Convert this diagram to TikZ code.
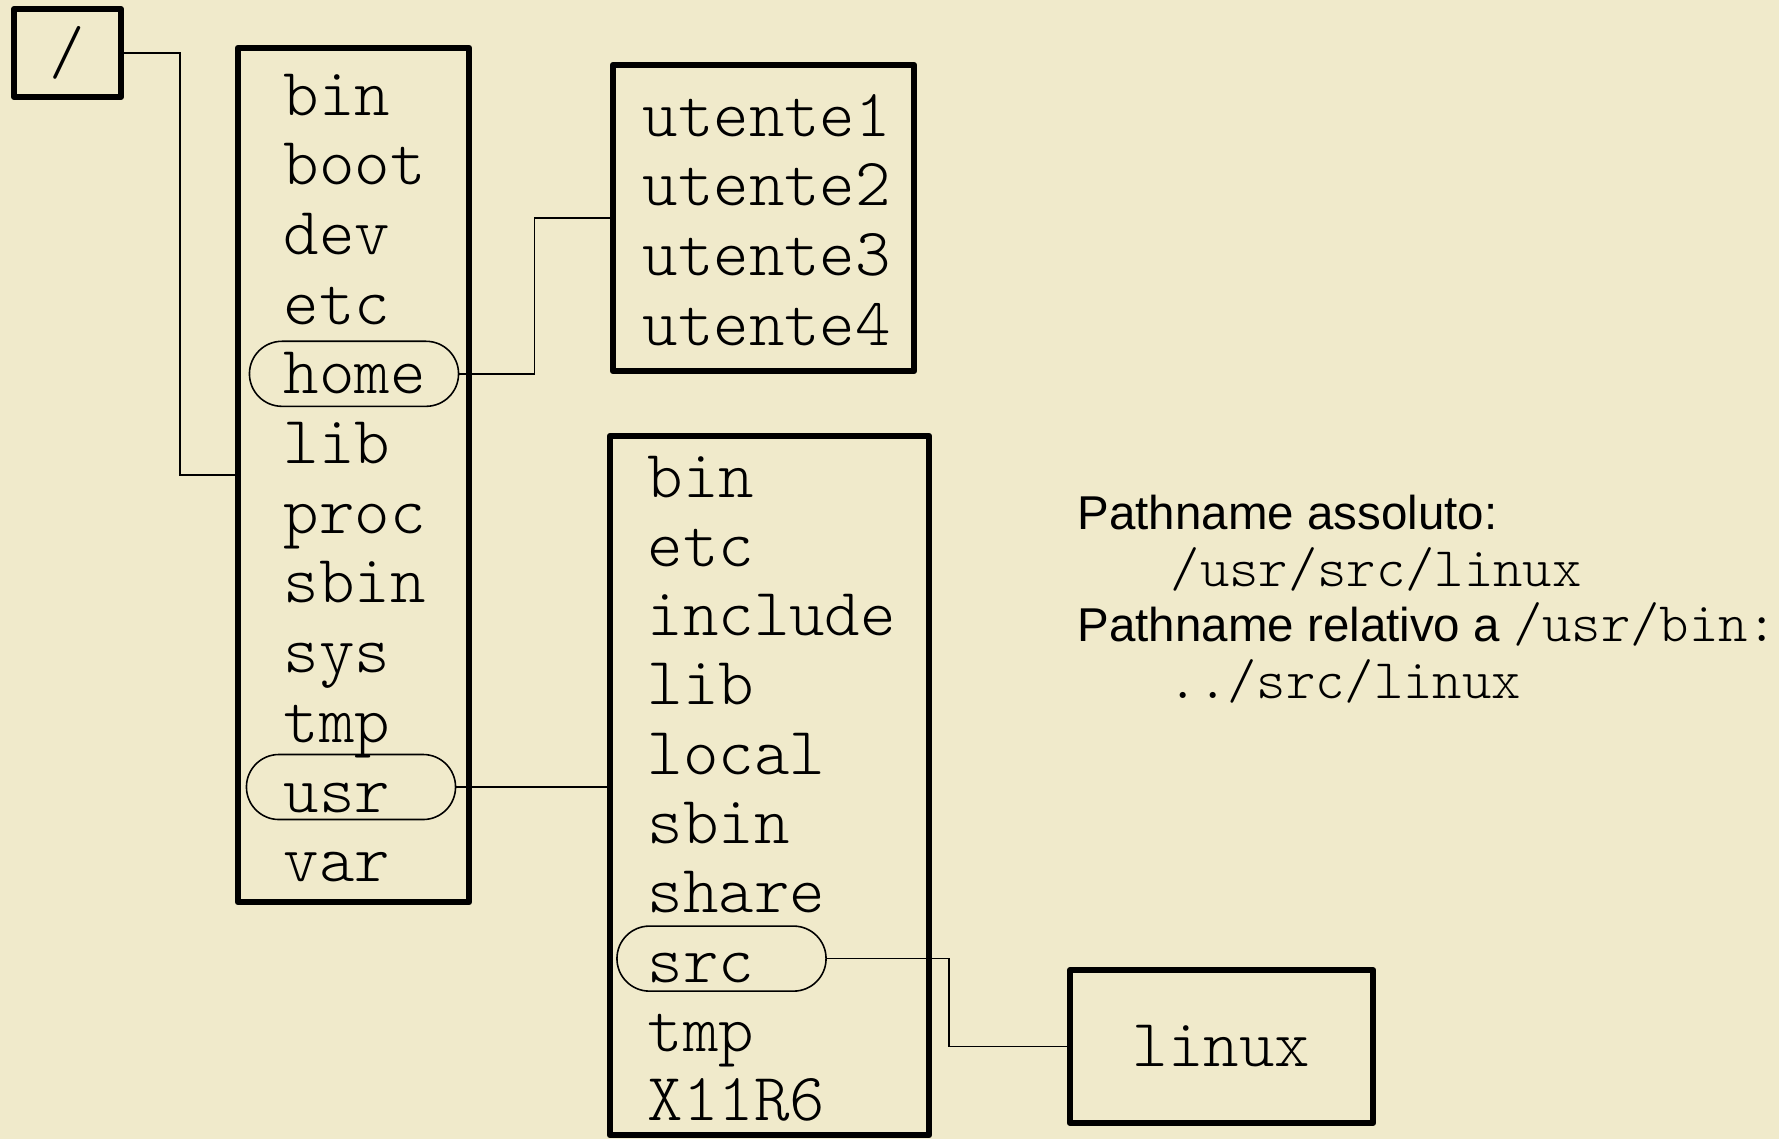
\documentclass[tikz,border=0pt]{standalone}
\usepackage{fontspec}
\newfontfamily\slidesans{Liberation Sans}
\newfontfamily\slidemono{lmmonolt10-regular.otf}
\usetikzlibrary{shapes.misc}

\definecolor{parchment}{RGB}{240,234,203}

\tikzset{
  dirbox/.style={draw, line width=1.7pt, line join=round, inner sep=0pt},
  entry/.style={anchor=base west, inner sep=0pt, font=\fontsize{19.2}{21}\selectfont\slidemono},
  ring/.style={draw, rounded rectangle, line width=0.45pt, minimum width=2.09cm,
    minimum height=0.65cm, inner sep=0pt},
  link/.style={line width=0.4pt},
  notes/.style={anchor=base west, inner sep=0pt, font=\fontsize{13.5}{16}\selectfont\slidesans},
  pathline/.style={anchor=base west, inner sep=0pt, font=\fontsize{15.9}{18}\selectfont\slidemono}
}

\begin{document}
\begin{tikzpicture}[x=0.01cm, y=-0.01cm]
  \fill[parchment] (0,0) rectangle (1779,1139);
  \useasboundingbox (0,0) rectangle (1779,1139);

  % directories
  \node[dirbox, minimum width=1.07cm, minimum height=0.88cm,
    font=\fontsize{19.2}{21}\selectfont\slidemono] (rootdir) at (67.5,53) {/};
  \node[dirbox, minimum width=2.31cm, minimum height=8.54cm] (topdir) at (353.5,475) {};
  \node[dirbox, minimum width=3.01cm, minimum height=3.06cm] (homedir) at (763.5,218) {};
  \node[dirbox, minimum width=3.19cm, minimum height=6.99cm] (usrdir) at (769.5,785.5) {};
  \node[dirbox, minimum width=3.03cm, minimum height=1.53cm,
    font=\fontsize{19.2}{21}\selectfont\slidemono] (linuxdir) at (1221.5,1046.5) {linux};

  % entries
  \foreach \name [count=\k from 0] in {bin,boot,dev,etc,home,lib,proc,sbin,sys,tmp,usr,var}
    \node[entry] (top-\name) at (283, 115+69.7*\k) {\name};
  \foreach \name [count=\k from 0] in {utente1,utente2,utente3,utente4}
    \node[entry] (home-\name) at (642, 136+69.7*\k) {\name};
  \foreach \name [count=\k from 0] in {bin,etc,include,lib,local,sbin,share,src,tmp,X11R6}
    \node[entry] (usr-\name) at (647, 497+69.3*\k) {\name};

  % marked entries
  \node[ring] (homering) at ([shift={(71,-20)}]top-home.base west) {};
  \node[ring] (usrring) at ([shift={(68,-25)}]top-usr.base west) {};
  \node[ring] (srcring) at ([shift={(74.5,-23.5)}]usr-src.base west) {};

  \draw[link] (rootdir.east) -- ++(56,0) |- (topdir.west);
  \draw[link] (homering.east) -- ++(75,0) |- (homedir.west);
  \draw[link] (usrring.east) -- (usrring.east -| usrdir.west);
  \draw[link] (srcring.east) -- ++(122,0) |- (linuxdir.west);

  % pathnames
  \node[notes] (absolute) at (1077,529) {Pathname assoluto:};
  \node[pathline] (abspath) at (1170,586) {/usr/src/linux};
  \node[notes] (relative) at (1077,641)
    {Pathname relativo a {\fontsize{15.9}{18}\selectfont\slidemono /usr/bin:}};
  \node[pathline] (relpath) at (1168,698) {../src/linux};
\end{tikzpicture}
\end{document}
